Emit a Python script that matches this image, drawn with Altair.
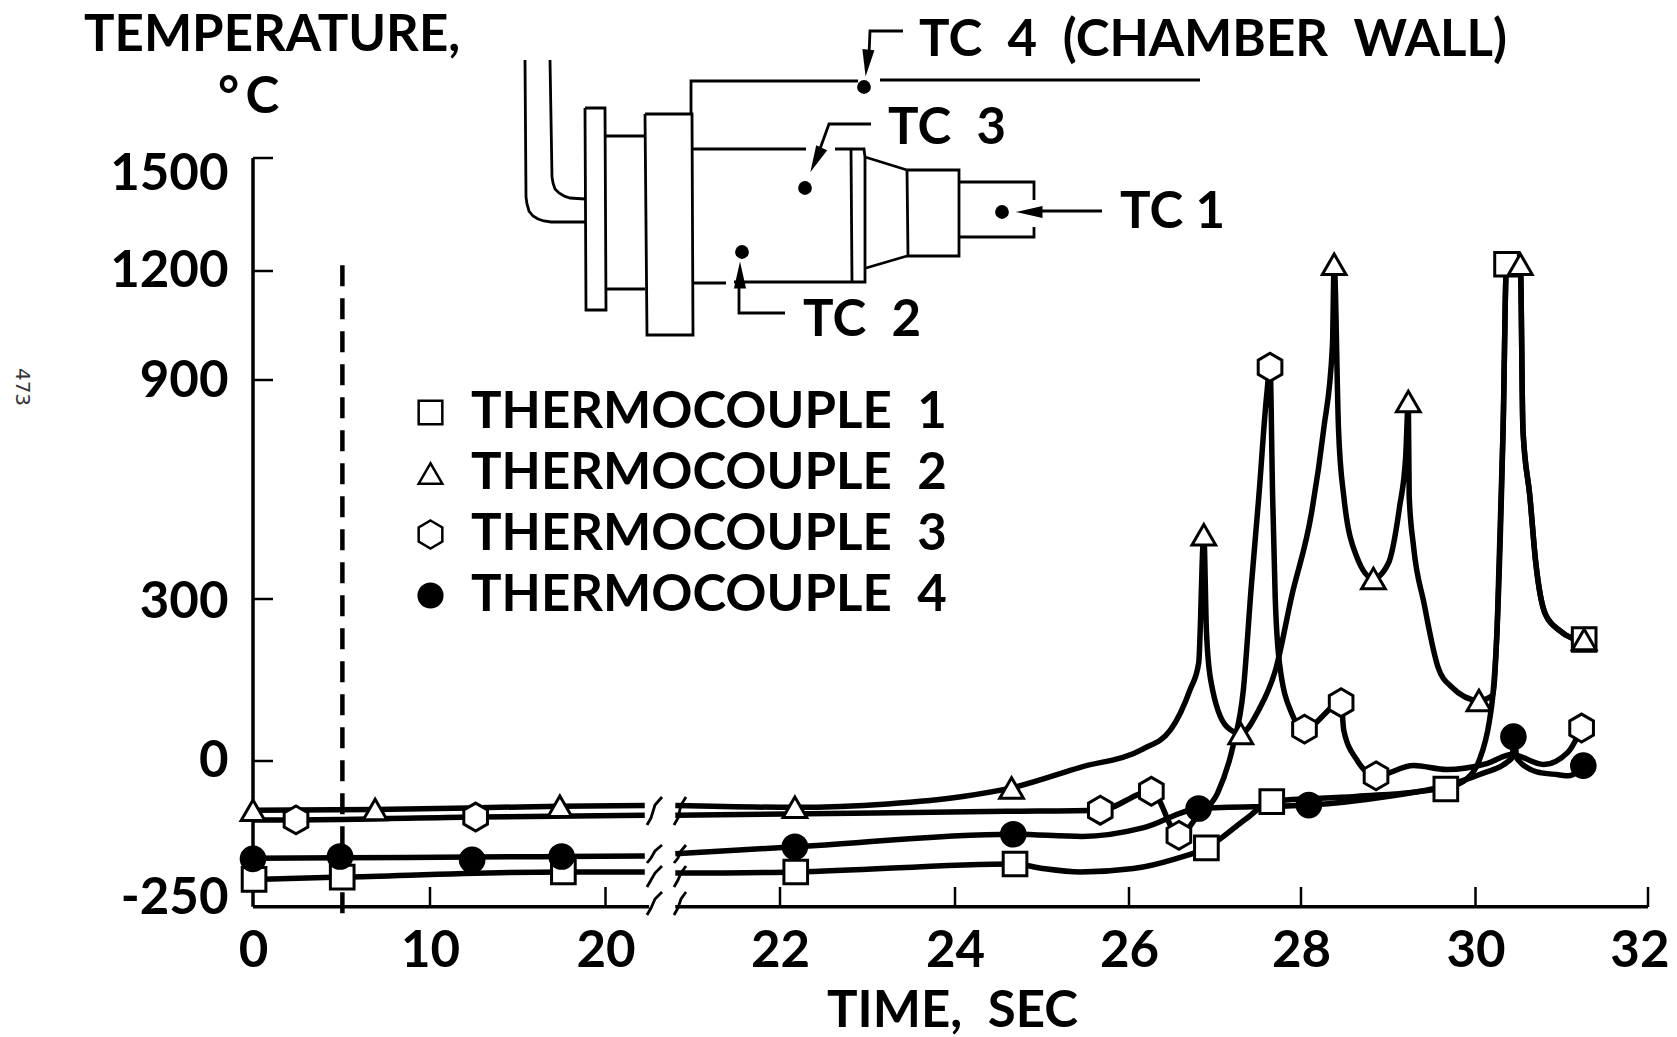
import altair as alt
import pandas as pd

FONT = "Lato"
NAMES = ["THERMOCOUPLE\u20021", "THERMOCOUPLE\u20022", "THERMOCOUPLE\u20023", "THERMOCOUPLE\u20024"]

# ---- axis breakpoints (time and temperature axes are piecewise) ----
x_ticks = [0, 10, 20, 22, 24, 26, 28, 30, 32]
x_pos = [0, 177, 352.5, 527, 702, 876, 1048, 1222.5, 1395]
y_ticks = [-250, 0, 300, 900, 1200, 1500]
y_pos = [746, 603, 441, 222, 113, 0]

# ---- curves: time (s), temperature (C) ----
tc1_t = [0.06, 5.04, 17.6, 20.45, 20.8, 22.18, 24.69, 25.01, 25.44, 26.05, 26.54, 26.9, 27.37, 27.66, 28.63, 29.66, 29.91, 30.04, 30.16, 30.2, 30.25, 30.32, 30.36, 30.52, 30.55, 30.63, 30.7, 30.81, 30.98, 31.25]
tc1_T = [-207, -203, -194, -194, -196, -194, -180, -188, -194, -188, -171, -152, -100, -70, -62, -47, -30, 0, 73, 120, 243, 765, 1218, 1218, 765, 582, 397, 272, 241, 221]

tc2_t = [0, 6.9, 17.4, 20.45, 20.8, 22.17, 23.23, 24.09, 24.65, 25.44, 26.16, 26.48, 26.71, 26.81, 26.87, 26.9, 26.95, 27.14, 27.3, 27.51, 27.71, 27.89, 28.12, 28.26, 28.36, 28.38, 28.43, 28.49, 28.64, 28.83, 29.0, 29.13, 29.2, 29.23, 29.24, 29.29, 29.41, 29.57, 29.72, 30.04, 30.2, 30.25, 30.32, 30.36, 30.52, 30.55, 30.63, 30.7, 30.81, 30.98, 31.25]
tc2_T = [-86, -85, -79, -78, -78, -81, -75, -62, -47, -11, 22, 57, 132, 181, 476, 243, 150, 63, 51, 95, 172, 306, 535, 765, 993, 1218, 765, 582, 415, 356, 397, 553, 691, 841, 582, 444, 292, 174, 138, 112, 122, 243, 765, 1218, 1218, 765, 582, 397, 272, 241, 221]

tc3_t = [0, 2.43, 12.6, 20.45, 20.8, 24.6, 25.67, 26.26, 26.58, 26.81, 27.03, 27.21, 27.33, 27.42, 27.51, 27.6, 27.64, 27.67, 27.7, 27.75, 27.89, 28.04, 28.46, 28.49, 28.64, 28.86, 29.29, 29.67, 30.14, 30.42, 30.79, 31.07, 31.23]
tc3_T = [-103, -103, -98, -95, -95, -88, -86, -53, -130, -94, -56, 28, 132, 329, 582, 856, 935, 582, 306, 181, 89, 59, 108, 57, 2, -26, -8, -15, -4, 12, -6, 16, 61]

tc4_t = [0, 4.92, 12.4, 17.5, 20.45, 20.8, 22.17, 24.67, 25.46, 26.16, 26.81, 28.09, 28.99, 29.66, 30.04, 30.42, 30.45, 30.48, 30.71, 30.96, 31.08, 31.25]
tc4_T = [-170, -169, -168, -167, -166, -162, -150, -128, -132, -117, -83, -77, -62, -43, -24, 5, 45, 5, -19, -24, -26, -8]

# ---- plotted symbols ----
m1_t = [0.06, 5.04, 17.6, 22.18, 24.69, 26.9, 27.66, 29.66, 30.36, 31.26]
m1_T = [-207, -203, -194, -194, -180, -152, -71, -49, 1218, 225]
m2_t = [0, 6.9, 17.4, 22.17, 24.65, 26.87, 27.3, 28.38, 28.83, 29.23, 30.04, 30.52, 31.26]
m2_T = [-86, -85, -79, -81, -47, 476, 51, 1218, 356, 841, 112, 1218, 225]
m3_t = [2.43, 12.6, 25.67, 26.26, 26.58, 27.64, 28.04, 28.46, 28.86, 31.23]
m3_T = [-103, -98, -86, -53, -130, 935, 59, 108, -26, 61]
m4_t = [0, 4.92, 12.4, 17.5, 22.17, 24.67, 26.81, 28.09, 30.44, 31.25]
m4_T = [-171, -167, -173, -167, -150, -128, -83, -77, 45, -8]

# ---- engine sketch and axis-break strokes, in page units ----
sketch = [
    ([525, 526, 527, 529, 533, 538, 544, 551, 585], [60, 197, 204, 211, 216, 219, 221, 222, 222]),
    ([550, 552, 553, 555, 559, 564, 570, 585], [60, 177, 183, 189, 193, 196, 198, 199]),
    ([585, 605, 606, 586, 585], [108, 108, 310, 310, 108]),
    ([605, 645], [136, 136]),
    ([606, 645], [289, 289]),
    ([645, 692, 693, 647, 645], [114, 114, 335, 335, 114]),
    ([691, 691, 858], [114, 81, 81]),
    ([880, 1200], [80, 80]),
    ([693, 806], [149, 149]),
    ([835, 864, 865, 865, 734], [149, 149, 157, 282, 282]),
    ([693, 726], [283, 283]),
    ([851, 852], [149, 282]),
    ([865, 907], [157, 170]),
    ([866, 907], [268, 256]),
    ([907, 959, 959, 908, 907], [170, 170, 256, 256, 170]),
    ([959, 1034, 1034], [182, 182, 200]),
    ([959, 1034, 1034], [237, 237, 227]),
    ([903, 870, 869], [31, 31, 55]),
    ([871, 829, 816], [124, 124, 160]),
    ([785, 739, 739], [313, 313, 283]),
    ([1102, 1035], [211, 211]),
]
breaks = [
    ([647, 651, 655, 662], [825, 818, 805, 797]),
    ([674, 678, 681, 686], [825, 818, 805, 797]),
    ([647, 651, 655, 662], [863, 858, 851, 845]),
    ([674, 678, 681, 686], [863, 858, 851, 845]),
    ([647, 651, 655, 662], [887, 880, 873, 866]),
    ([674, 678, 681, 686], [887, 880, 873, 866]),
    ([647, 651, 655, 662], [915, 908, 899, 892]),
    ([674, 678, 681, 686], [915, 908, 899, 892]),
]
dots_x = [864, 805, 742, 1002]
dots_y = [87, 188, 252, 212]
arrow_x = [867, 816, 740, 1029]
arrow_y = [63, 160, 275, 212]
arrow_a = [186, 205, 0, 270]

label_text = ["TEMPERATURE,", "\u00b0\u2009C", "TC\u20024\u2002(CHAMBER\u2002WALL)", "TC\u20023", "TC 1", "TC\u20022", "TIME,\u2002SEC"]
label_x = [84, 218, 919, 888, 1120, 803, 827]
label_y = [36, 98, 41, 129, 213, 321, 1012]

# ---- scales ----
W, H = 1395, 749
def xs():
    return alt.Scale(domain=x_ticks, range=x_pos)
def ys():
    return alt.Scale(domain=y_ticks, range=y_pos)
def px():
    return alt.Scale(domain=[253, 253 + W], range=[0, W])
def py():
    return alt.Scale(domain=[158, 158 + H], range=[0, H])

def X(f="t", **k):
    return alt.X(f"{f}:Q", scale=xs(), axis=None, **k)
def Y(f="T", **k):
    return alt.Y(f"{f}:Q", scale=ys(), axis=None, **k)
def PX(f="x"):
    return alt.X(f"{f}:Q", scale=px(), axis=None)
def PY(f="y"):
    return alt.Y(f"{f}:Q", scale=py(), axis=None)

# ---- tables ----
rows = []
for name, ts, Ts in zip(NAMES, [tc1_t, tc2_t, tc3_t, tc4_t], [tc1_T, tc2_T, tc3_T, tc4_T]):
    for i, (a, b) in enumerate(zip(ts, Ts)):
        rows.append(dict(s=name, seg=f"{name}{a < 20.6}", i=i, t=a, T=b))
curves = pd.DataFrame(rows)

rows = []
for name, ts, Ts in zip(NAMES, [m1_t, m2_t, m3_t, m4_t], [m1_T, m2_T, m3_T, m4_T]):
    for a, b in zip(ts, Ts):
        rows.append(dict(s=name, t=a, T=b))
marks = pd.DataFrame(rows)

rows = []
for k, (a, b) in enumerate(sketch + breaks):
    for i, (u, v) in enumerate(zip(a, b)):
        rows.append(dict(k=k, i=i, x=u, y=v))
paths = pd.DataFrame(rows)

HEX = "M0,-1.18L1,-0.6L1,0.6L0,1.18L-1,0.6L-1,-0.6Z"
legend = alt.Legend(
    title=None, orient="none", legendX=152, legendY=229,
    labelFont=FONT, labelFontSize=51, labelFontWeight="bold", labelColor="black",
    labelOffset=15, rowPadding=9, symbolSize=560, symbolStrokeWidth=2.5,
    labelLimit=600,
)

# axis carriers
base = alt.Chart(pd.DataFrame({"t": [0], "T": [0]})).mark_point(opacity=0).encode(
    x=alt.X("t:Q", scale=xs(), title=None, axis=alt.Axis(
        values=[0, 10, 20, 22, 24, 26, 28, 30, 31.9], domain=False, ticks=False, grid=False,
        labelExpr="datum.value == 31.9 ? '32' : format(datum.value, 'd')",
        labelFont=FONT, labelFontSize=51, labelFontWeight="bold", labelColor="black",
        labelPadding=19, labelOverlap=False, labelFlush=False)),
    y=alt.Y("T:Q", scale=ys(), title=None, axis=alt.Axis(
        values=[-240, 0, 293, 895, 1200, 1456], domain=False, ticks=False, grid=False,
        labelExpr="datum.value == -240 ? '-250' : datum.value == 293 ? '300' : datum.value == 895 ? '900' : datum.value == 1456 ? '1500' : format(datum.value, 'd')",
        labelFont=FONT, labelFontSize=51, labelFontWeight="bold", labelColor="black",
        labelPadding=25, labelOverlap=False, labelFlush=False)),
)

# axis lines: time axis has a gap at the break
axis_x = pd.DataFrame({"t": [0, 20.8], "t2": [20.5, 32], "T": [-255, -255]})
xaxis = alt.Chart(axis_x).mark_rule(strokeWidth=3.5, color="black").encode(
    x=X(), x2="t2:Q", y=Y())
yaxis = alt.Chart(pd.DataFrame({"t": [0], "T": [1500], "T2": [-255]})).mark_rule(
    strokeWidth=3.5, color="black").encode(x=X(), y=Y(), y2="T2:Q")
yt = alt.Chart(pd.DataFrame({"T": [0, 300, 900, 1200, 1500]})).mark_rule(
    strokeWidth=2.5, color="black").encode(y=Y(), x=alt.value(0), x2=alt.value(20))
xt = alt.Chart(pd.DataFrame({"t": x_ticks[1:]})).mark_rule(
    strokeWidth=2.5, color="black").encode(x=X(), y=alt.value(H - 20), y2=alt.value(H))
dash = alt.Chart(pd.DataFrame({"t": [5.05], "T": [1215], "T2": [-283]})).mark_rule(
    strokeWidth=4.5, color="black", strokeDash=[21, 12]).encode(x=X(), y=Y(), y2="T2:Q")

lines = alt.Chart(curves).mark_line(
    color="black", strokeWidth=5.5, interpolate="monotone", strokeJoin="round"
).encode(x=X(), y=Y(), detail="seg:N", order="i:Q")

pts = alt.Chart(marks).mark_point(filled=True, strokeWidth=3, size=560, opacity=1).encode(
    x=X(), y=Y(),
    shape=alt.Shape("s:N", scale=alt.Scale(domain=NAMES, range=["square", "triangle-up", HEX, "circle"]), legend=legend),
    fill=alt.Fill("s:N", scale=alt.Scale(domain=NAMES, range=["white", "white", "white", "black"]), legend=legend),
    stroke=alt.Stroke("s:N", scale=alt.Scale(domain=NAMES, range=["black", "black", "black", "black"]), legend=legend),
)

sk = alt.Chart(paths).mark_line(color="black", strokeWidth=2.8).encode(
    x=PX(), y=PY(), detail="k:N", order="i:Q")
dots = alt.Chart(pd.DataFrame({"x": dots_x, "y": dots_y})).mark_point(
    filled=True, color="black", size=190, opacity=1).encode(x=PX(), y=PY())
arrows = alt.Chart(pd.DataFrame({"x": arrow_x, "y": arrow_y, "a": arrow_a})).mark_point(
    filled=True, color="black", size=729, opacity=1, shape="M0,-1L0.45,1L-0.45,1Z"
).encode(x=PX(), y=PY(), angle=alt.Angle("a:Q", scale=None))
labels = alt.Chart(pd.DataFrame({"x": label_x, "y": label_y, "z": label_text})).mark_text(
    font=FONT, fontSize=51, fontWeight="bold", align="left", baseline="middle", color="black"
).encode(x=PX(), y=PY(), text="z:N")
stamp = alt.Chart(pd.DataFrame({"x": [22], "y": [387], "z": ["473"]})).mark_text(
    font="DejaVu Sans", fontSize=20, angle=90, align="center", baseline="middle", color="#333333"
).encode(x=PX(), y=PY(), text="z:N")

chart = alt.layer(
    base, xaxis, yaxis, yt, xt, dash, lines, pts, sk, dots, arrows, labels, stamp
).resolve_scale(x="independent", y="independent").properties(
    width=W, height=H,
    autosize=alt.AutoSizeParams(type="none"),
    padding={"left": 245, "top": 150, "right": 21, "bottom": 129},
    background="white",
).configure_view(stroke=None)

chart.save("out.html", embed_options={"renderer": "svg", "actions": False})
